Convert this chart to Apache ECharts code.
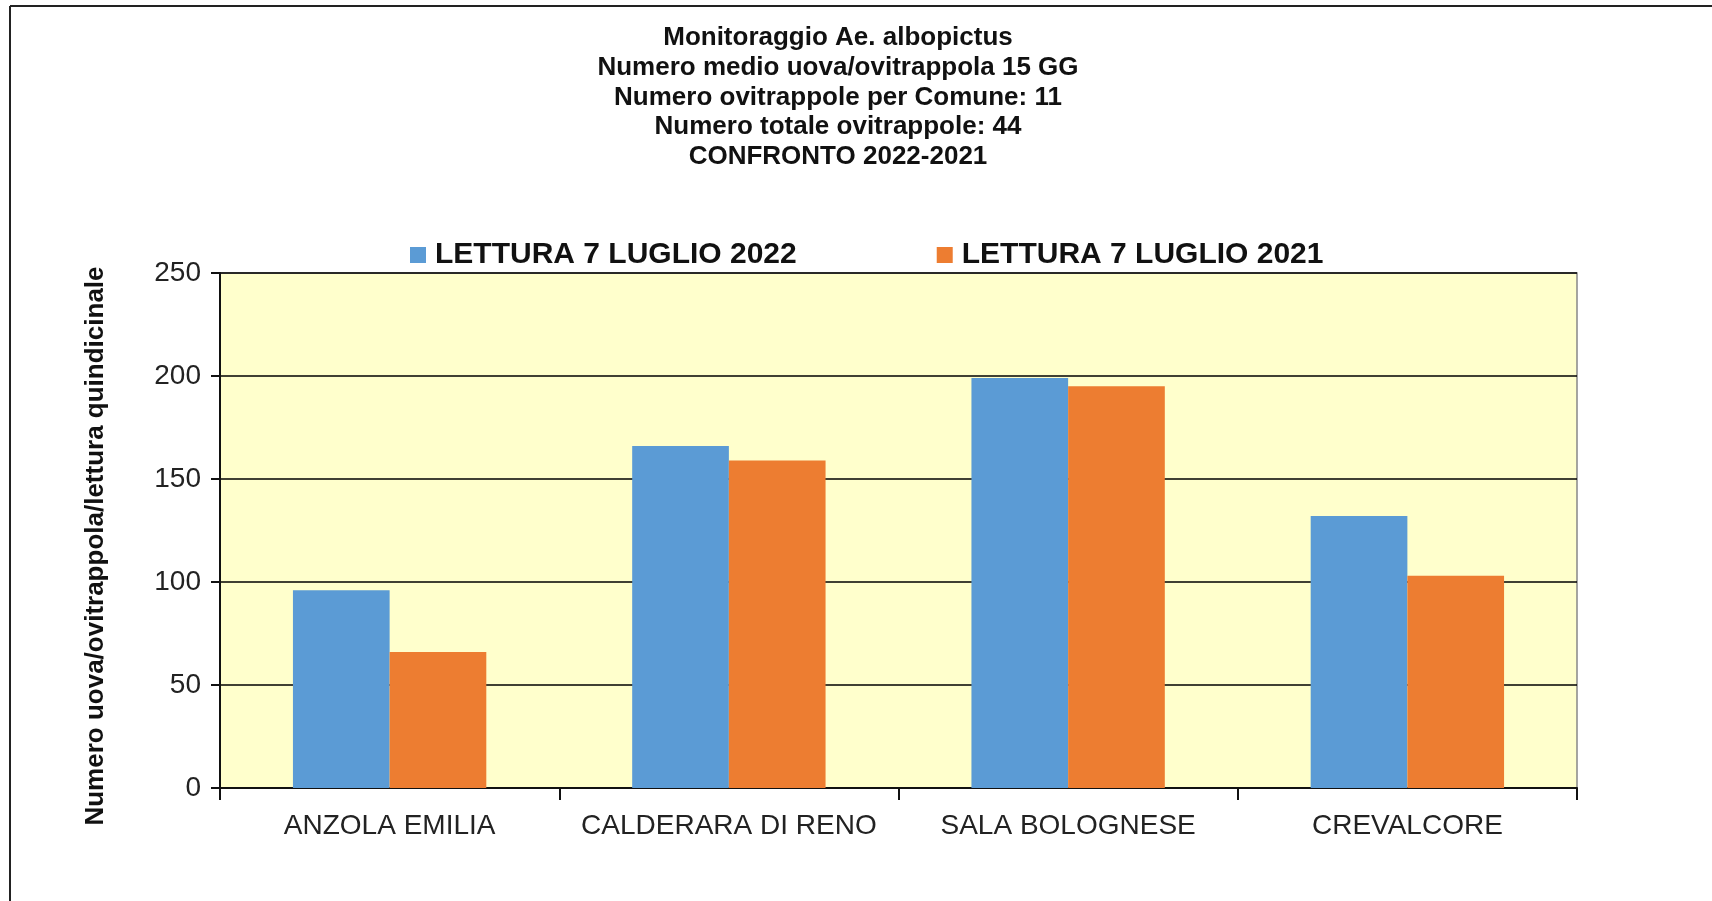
<!DOCTYPE html>
<html>
<head>
    <meta charset="utf-8">
    <title>Monitoraggio Ae. albopictus</title>
    <script src="https://cdn.jsdelivr.net/npm/echarts@6/dist/echarts.min.js"></script>
    <style>
        html, body { margin: 0; padding: 0; background: #fff; }
        #chart1 { width: 1712px; height: 901px; }
    </style>
</head>
<body>
<div id="chart1"></div>
<script type="text/javascript">
    // dati
    var comuni = ['ANZOLA EMILIA', 'CALDERARA DI RENO', 'SALA BOLOGNESE', 'CREVALCORE'];
    var lettura2022 = [96, 166, 199, 132];
    var lettura2021 = [66, 159, 195, 103];
    var serieNomi = ['LETTURA 7 LUGLIO 2022', 'LETTURA 7 LUGLIO 2021'];
    var titoloRighe = [
        'Monitoraggio Ae. albopictus',
        'Numero medio uova/ovitrappola 15 GG',
        'Numero ovitrappole per Comune: 11',
        'Numero totale ovitrappole: 44',
        'CONFRONTO 2022-2021'
    ];
    var nomeAsseY = 'Numero uova/ovitrappola/lettura quindicinale';

    var font = '"Liberation Sans", Arial, sans-serif';
    var myChart1 = echarts.init(document.getElementById('chart1'));

    myChart1.setOption({
        animation: false,
        backgroundColor: '#ffffff',
        graphic: [
            // cornice
            { type: 'line', shape: { x1: 10, y1: 6, x2: 1712, y2: 6 }, style: { stroke: '#222', lineWidth: 2 } },
            { type: 'line', shape: { x1: 10, y1: 6, x2: 10, y2: 901 }, style: { stroke: '#222', lineWidth: 2 } },
            {
                type: 'text', x: 838, y: 23,
                style: {
                    text: titoloRighe.join('\n'),
                    fill: '#111',
                    font: 'bold 26px ' + font,
                    lineHeight: 29.75,
                    textAlign: 'center',
                    textVerticalAlign: 'top'
                }
            },
            {
                type: 'text', x: 96, y: 546, rotation: Math.PI / 2,
                style: {
                    text: nomeAsseY,
                    fill: '#111',
                    font: 'bold 26px ' + font,
                    textAlign: 'center',
                    textVerticalAlign: 'middle'
                }
            }
        ],
        legend: {
            data: serieNomi,
            left: 410,
            top: 240,
            padding: 0,
            icon: 'rect',
            itemWidth: 16,
            itemHeight: 16,
            itemGap: 140,
            textStyle: { fontSize: 30, fontWeight: 'bold', color: '#111', fontFamily: font, padding: [0, 0, 0, 4] }
        },
        grid: {
            left: 220,
            right: 135,
            top: 273,
            bottom: 113,
            show: true,
            backgroundColor: '#FFFFCC',
            borderColor: '#888',
            borderWidth: 1.5
        },
        xAxis: {
            type: 'category',
            data: comuni,
            axisLine: { show: true, lineStyle: { color: '#111', width: 2 } },
            axisTick: { show: true, length: 12, lineStyle: { color: '#111', width: 2 } },
            axisLabel: { interval: 0, fontSize: 28, color: '#222', margin: 24, fontFamily: font }
        },
        yAxis: {
            type: 'value',
            min: 0,
            max: 250,
            interval: 50,
            axisLine: { show: true, lineStyle: { color: '#111', width: 2 } },
            axisTick: { show: true, length: 9, lineStyle: { color: '#111', width: 2 } },
            axisLabel: { fontSize: 28, color: '#222', margin: 19, fontFamily: font },
            splitLine: { lineStyle: { color: '#000', width: 1.5 } }
        },
        series: [
            {
                name: serieNomi[0],
                type: 'bar',
                data: lettura2022,
                barGap: '0%',
                barCategoryGap: '43%',
                itemStyle: { color: '#5B9BD5' }
            },
            {
                name: serieNomi[1],
                type: 'bar',
                data: lettura2021,
                barGap: '0%',
                barCategoryGap: '43%',
                itemStyle: { color: '#ED7D31' }
            }
        ]
    });
</script>
</body>
</html>
